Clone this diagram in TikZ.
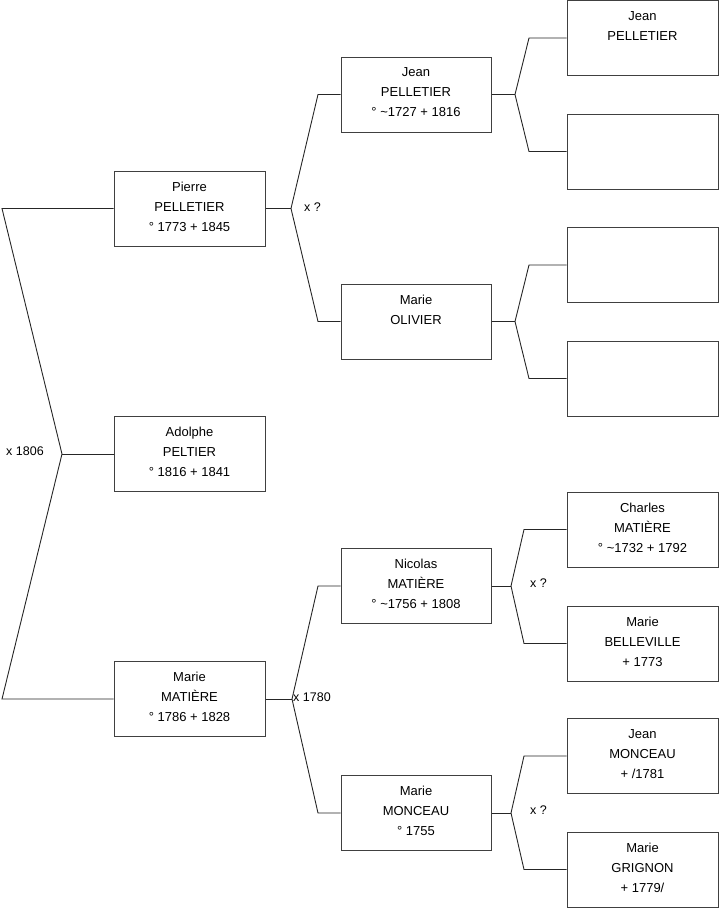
\documentclass[tikz,border=0pt]{standalone}
\usepackage{fontspec}
\setmainfont{Liberation Sans}
\newcommand{\lowpad}{\rule[-4pt]{0pt}{1pt}}
\begin{document}
\begin{tikzpicture}[x=1pt,y=-1pt,
  person/.style={draw=black!75,line width=1pt,minimum height=75pt,inner sep=0pt,
    font=\fontsize{13}{20}\selectfont,align=center},
  gA/.style={person,minimum width=151pt},
  gB/.style={person,minimum width=150pt},
  link/.style={draw=black!85,line width=0.9pt},
  mlabel/.style={font=\fontsize{12.5}{15}\selectfont,inner sep=0pt}]
\useasboundingbox (0,0) rectangle (719,908);
% generation 1
\node[gA] (pierre) at (189.5,208.5) {Pierre\\PELLETIER\\° 1773 + 1845\lowpad};
\node[gA] (adolphe) at (189.5,454) {Adolphe\\PELTIER\\° 1816 + 1841\lowpad};
\node[gA] (mariem) at (189.5,699) {Marie\\MATIÈRE\\° 1786 + 1828\lowpad};
% generation 2
\node[gB] (jean) at (416,94.5) {Jean\\PELLETIER\\° \textasciitilde1727 + 1816\lowpad};
\node[gB] (olivier) at (416,321.5) {Marie\\OLIVIER\\\mbox{}\lowpad};
\node[gB] (nicolas) at (416,586) {Nicolas\\MATIÈRE\\° \textasciitilde1756 + 1808\lowpad};
\node[gB] (monceau) at (416,813) {Marie\\MONCEAU\\° 1755\lowpad};
% generation 3
\node[gA] (b1) at (642.5,38) {Jean\\PELLETIER\\\mbox{}\lowpad};
\node[gA] (b2) at (642.5,151.5) {\strut};
\node[gA] (b3) at (642.5,265) {\strut};
\node[gA] (b4) at (642.5,378.5) {\strut};
\node[gA] (b5) at (642.5,529.5) {Charles\\MATIÈRE\\° \textasciitilde1732 + 1792\lowpad};
\node[gA] (b6) at (642.5,643.5) {Marie\\BELLEVILLE\\+ 1773\lowpad};
\node[gA] (b7) at (642.5,756) {Jean\\MONCEAU\\+ /1781\lowpad};
\node[gA] (b8) at (642.5,869.5) {Marie\\GRIGNON\\+ 1779/\lowpad};
% fork coordinates
\coordinate (f0) at (62,454);  \coordinate (f0u) at (2,208.5); \coordinate (f0d) at (2,699);
\coordinate (f1) at (291,208.5); \coordinate (f1u) at (318,94.5); \coordinate (f1d) at (318,321.5);
\coordinate (f2) at (292,699); \coordinate (f2u) at (318,586); \coordinate (f2d) at (318,813);
\coordinate (f3) at (515,94.5); \coordinate (f3u) at (529,38); \coordinate (f3d) at (529,151.5);
\coordinate (f4) at (515,321.5); \coordinate (f4u) at (529,265); \coordinate (f4d) at (529,378.5);
\coordinate (f5) at (511,586); \coordinate (f5u) at (524,529.5); \coordinate (f5d) at (524,643.5);
\coordinate (f6) at (511,813); \coordinate (f6u) at (524,756); \coordinate (f6d) at (524,869.5);
% connectors
\draw[link] (adolphe.west) -- (f0);
\draw[link] (pierre.west) -- (f0u) -- (f0);
\draw[link] (mariem.west) -- (f0d) -- (f0);
\draw[link] (pierre.east) -- (f1);
\draw[link] (jean.west) -- (f1u) -- (f1);
\draw[link] (olivier.west) -- (f1d) -- (f1);
\draw[link] (mariem.east) -- (f2);
\draw[link] (nicolas.west) -- (f2u) -- (f2);
\draw[link] (monceau.west) -- (f2d) -- (f2);
\draw[link] (jean.east) -- (f3);
\draw[link] (b1.west) -- (f3u) -- (f3);
\draw[link] (b2.west) -- (f3d) -- (f3);
\draw[link] (olivier.east) -- (f4);
\draw[link] (b3.west) -- (f4u) -- (f4);
\draw[link] (b4.west) -- (f4d) -- (f4);
\draw[link] (nicolas.east) -- (f5);
\draw[link] (b5.west) -- (f5u) -- (f5);
\draw[link] (b6.west) -- (f5d) -- (f5);
\draw[link] (monceau.east) -- (f6);
\draw[link] (b7.west) -- (f6u) -- (f6);
\draw[link] (b8.west) -- (f6d) -- (f6);
% marriage labels
\node[mlabel,anchor=west] (m0) at (6,451) {x 1806};
\node[mlabel,anchor=west] (m1) at (304,207) {x ?};
\node[mlabel,anchor=west] (m2) at (293,697.5) {x 1780};
\node[mlabel,anchor=west] (m3) at (530,583) {x ?};
\node[mlabel,anchor=west] (m4) at (530,810) {x ?};
\end{tikzpicture}
\end{document}
